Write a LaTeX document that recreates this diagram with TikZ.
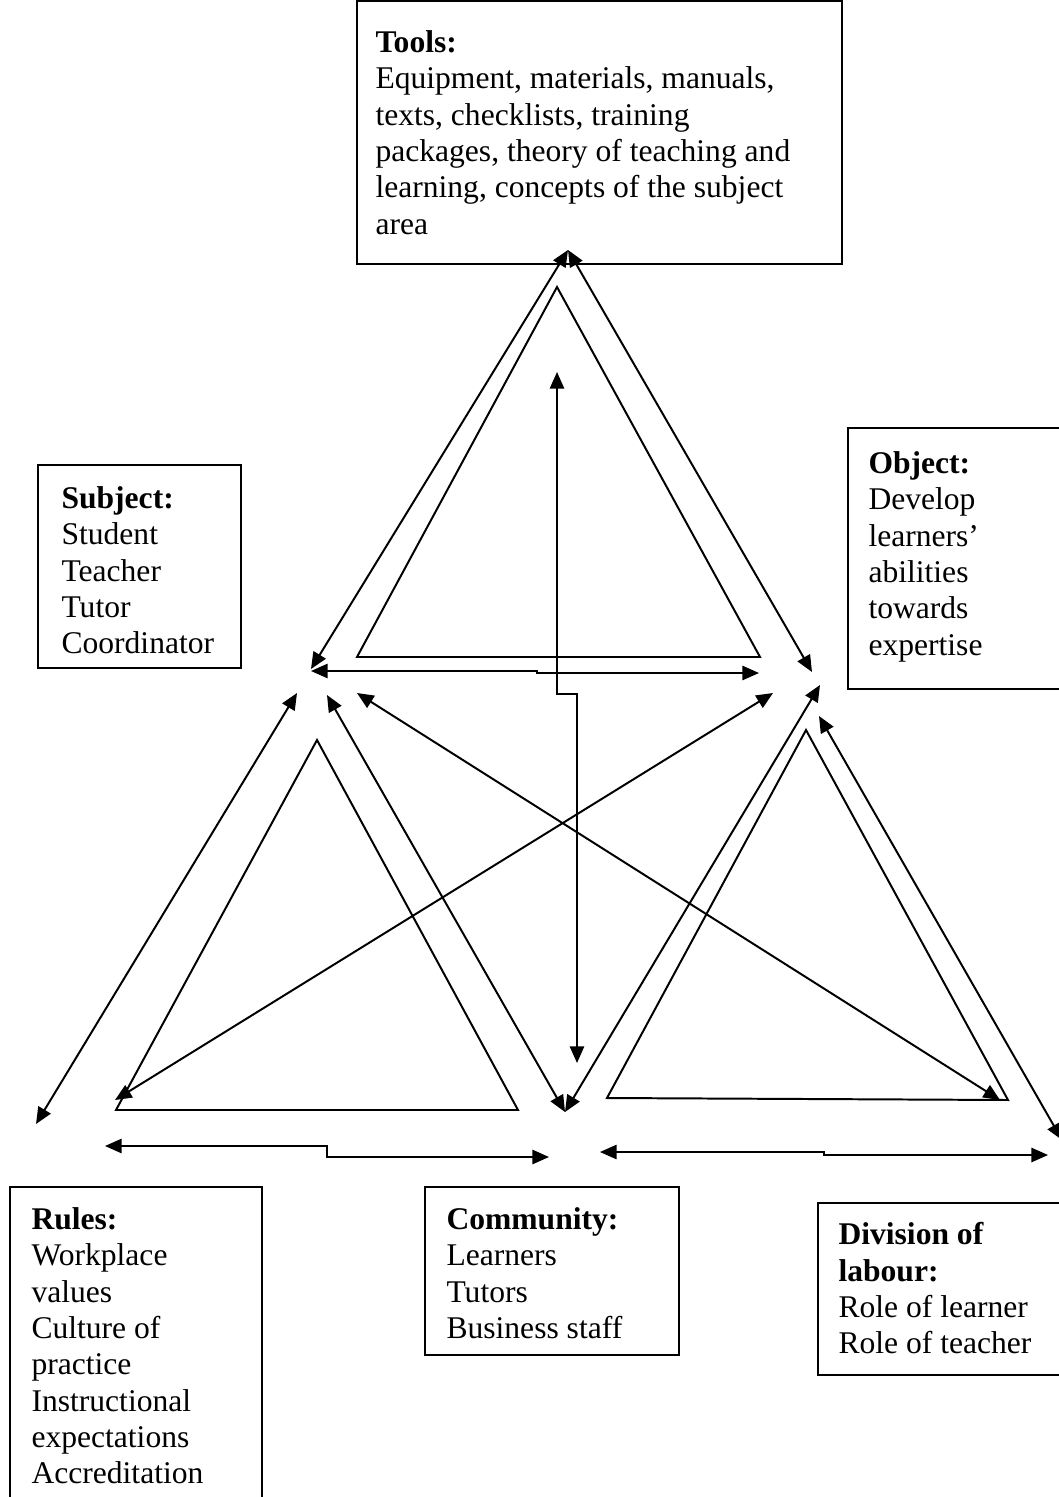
\documentclass[tikz,border=0pt]{standalone}
\usepackage{fontspec}
\setmainfont{Liberation Serif}
\usetikzlibrary{arrows.meta,fit}
\begin{document}
\begin{tikzpicture}[x=0.38pt,y=-0.38pt,
  frame/.style={draw,line width=0.75pt,inner sep=0pt},
  lbl/.style={inner sep=0pt,align=left,anchor=north west,
    font=\fontsize{12}{13.8}\selectfont},
  tri/.style={draw,line width=0.75pt,line join=miter},
  link/.style={line width=0.75pt,
    {Triangle[length=6.3pt,width=5.4pt]}-{Triangle[length=6.3pt,width=5.4pt]}}
]
\useasboundingbox (0,0) rectangle (1059,1497);

% ---- text boxes ----
\node[frame,fit={(357,1) (842,264)}] (toolsbox) {};
\node[lbl] (toolstxt) at (375,30) {\textbf{Tools:}\\Equipment, materials, manuals,\\texts, checklists, training\\packages, theory of teaching and\\learning, concepts of the subject\\area};

\node[frame,fit={(38,465) (241,668)}] (subjbox) {};
\node[lbl] (subjtxt) at (61,486) {\textbf{Subject:}\\Student\\Teacher\\Tutor\\Coordinator};

\node[frame,fit={(848,428) (1070,689)}] (objbox) {};
\node[lbl] (objtxt) at (868,451) {\textbf{Object:}\\Develop\\learners’\\abilities\\towards\\expertise};

\node[frame,fit={(10,1187) (262,1520)}] (rulesbox) {};
\node[lbl] (rulestxt) at (31,1207) {\textbf{Rules:}\\Workplace\\values\\Culture of\\practice\\Instructional\\expectations\\Accreditation};

\node[frame,fit={(425,1187) (679,1355)}] (commbox) {};
\node[lbl] (commtxt) at (446,1207) {\textbf{Community:}\\Learners\\Tutors\\Business staff};

\node[frame,fit={(818,1203) (1070,1375)}] (divbox) {};
\node[lbl] (divtxt) at (838,1222) {\textbf{Division of}\\\textbf{labour:}\\Role of learner\\Role of teacher};

% ---- inner triangles ----
\draw[tri] (557,287) -- (357,657) -- (760,657) -- cycle;
\draw[tri] (317,740) -- (116,1110) -- (518,1110) -- cycle;
\draw[tri] (806,730) -- (607,1098) -- (1008,1100) -- cycle;

% ---- connector end points ----
\coordinate (tools) at (568,250);
\coordinate (subjA) at (311,669);
\coordinate (objA) at (812,672);
\coordinate (subjH) at (311,671);
\coordinate (objH) at (759,673);
\coordinate (vtop) at (557,372);
\coordinate (vbot) at (577,1063);
\coordinate (subjR) at (297,693);
\coordinate (rules) at (36,1124);
\coordinate (subjC) at (327,695);
\coordinate (comm) at (565,1112);
\coordinate (objC) at (820,685);
\coordinate (subjD) at (357,693);
\coordinate (divA) at (1000,1100);
\coordinate (objR) at (773,693);
\coordinate (rulesA) at (115,1100);
\coordinate (objD) at (819,716);
\coordinate (div) at (1062,1140);
\coordinate (rulesH) at (105,1146);
\coordinate (commH) at (549,1157);
\coordinate (commH2) at (600,1152);
\coordinate (divH) at (1048,1155);

% ---- connectors ----
\draw[link] (subjA) -- (tools);
\draw[link] (objA) -- (tools);
\draw[link] (subjH) -- (537,671) -- (537,673) -- (objH);
\draw[link] (vtop) -- (557,694) -- (577,694) -- (vbot);
\draw[link] (subjR) -- (rules);
\draw[link] (subjC) -- (comm);
\draw[link] (objC) -- (comm);
\draw[link] (subjD) -- (divA);
\draw[link] (objR) -- (rulesA);
\draw[link] (objD) -- (div);
\draw[link] (rulesH) -- (327,1146) -- (327,1157) -- (commH);
\draw[link] (commH2) -- (824,1152) -- (824,1155) -- (divH);
\end{tikzpicture}
\end{document}
